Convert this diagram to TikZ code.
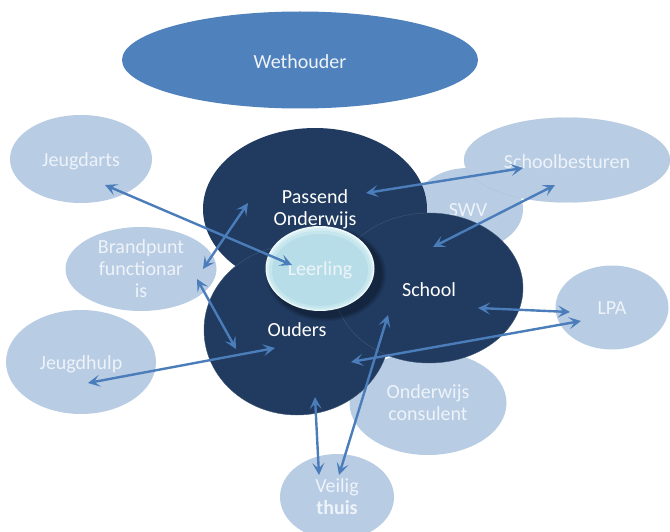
\documentclass[tikz,border=0pt]{standalone}
\usepackage{fontspec}
\setmainfont{Carlito}
\usetikzlibrary{arrows.meta,shapes.geometric}
\definecolor{lightblob}{HTML}{B8CCE4}
\definecolor{darkblob}{HTML}{203B5F}
\definecolor{midblob}{HTML}{4F81BD}
\definecolor{arrowblue}{HTML}{4A7DBA}
\definecolor{softtext}{HTML}{EEF3F9}
\definecolor{rimA}{HTML}{EEF8FA}
\definecolor{rimB}{HTML}{D6EEF3}
\definecolor{rimC}{HTML}{C5E6EC}
\definecolor{coreLeer}{HTML}{B7DEE8}
\newcommand{\dropby}[2]{\raisebox{-#1pt}[\height][\depth]{#2}}
\tikzset{
  blob/.style={ellipse,inner sep=0pt,align=center,font=\fontsize{20}{22}\selectfont},
  size/.style n args={2}{minimum width=#1pt,minimum height=#2pt},
  outer/.style={blob,fill=lightblob,text=softtext},
  core/.style={blob,fill=darkblob,text=white},
  link/.style={draw=arrowblue,line width=2.4pt,{Stealth[length=12pt,width=12pt,inset=5.5pt]}-{Stealth[length=12pt,width=12pt,inset=5.5pt]}},
}
\begin{document}
\begin{tikzpicture}[x=1pt,y=-1pt]
\useasboundingbox (0,0) rectangle (670,532);
\clip (0,0) rectangle (670,532);
\fill[white] (0,0) rectangle (670,532);
\node[outer,size={110}{82}] (swv) at (468,209) {\dropby{1.5}{SWV}};
\node[outer,size={157}{104}] (consulent) at (428,403) {Onderwijs\\consulent};
\node[outer,size={142}{88}] (jeugdarts) at (81,159) {\dropby{2.5}{Jeugdarts}};
\node[outer,size={151}{84}] (brandpunt) at (141,269) {Brandpunt\\functionar\\is};
\node[outer,size={150}{104}] (jeugdhulp) at (81,362) {\dropby{2}{Jeugdhulp}};
\node[outer,size={206}{85},draw=lightblob!85!black,draw opacity=.25,line width=.4pt] (besturen) at (567,160) {\dropby{2}{Schoolbesturen}};
\node[outer,size={113}{84}] (lpa) at (612,307.5) {\dropby{1}{LPA}};
\node[outer,size={114}{86}] (veilig) at (337,497) {Veilig\\\textbf{thuis}};
\node[blob,fill=midblob,text=softtext,size={356}{97}] (wethouder) at (300,60) {\dropby{1.5}{Wethouder}};
\node[core,size={224}{162}] (passend) at (315,209) {Passend\\Onderwijs};
\node[core,size={186}{170},draw=darkblob!85!white,line width=.4pt] (ouders) at (297,330) {Ouders};
\node[core,size={188}{150},draw=darkblob!85!white,line width=.4pt] (school) at (429,288) {\dropby{2}{School}};
% soft shadow and rim of the centre ellipse
\foreach \g/\o in {1.10/.05,1.08/.06,1.06/.07,1.04/.08,1.02/.10}{
  \fill[black,opacity=\o] (326,274) ellipse ({55*\g} and {43*\g});
}
\fill[rimA] (320,268.5) ellipse (54.5 and 42.5);
\fill[rimB] (320,269) ellipse (53 and 41);
\fill[rimC] (320,269.5) ellipse (51 and 39);
\node[blob,fill=coreLeer,text=softtext,size={96}{72}] (leerling) at (320,270) {Leerling};
% connector ends
\coordinate (a1) at (105,185); \coordinate (a2) at (292,265);
\coordinate (b1) at (248,203); \coordinate (b2) at (203,269);
\coordinate (c1) at (197,279); \coordinate (c2) at (236,349);
\coordinate (d1) at (88,383);  \coordinate (d2) at (275,348);
\coordinate (e1) at (366,193); \coordinate (e2) at (523,168);
\coordinate (f1) at (433,247); \coordinate (f2) at (555,185);
\coordinate (g1) at (478,308); \coordinate (g2) at (570,312);
\coordinate (h1) at (351,362); \coordinate (h2) at (581,321);
\coordinate (i1) at (315,397); \coordinate (i2) at (319,475);
\coordinate (j1) at (388,315); \coordinate (j2) at (339,475);
\draw[link] (a1) -- (a2);
\draw[link] (b1) -- (b2);
\draw[link] (c1) -- (c2);
\draw[link] (d1) -- (d2);
\draw[link] (e1) -- (e2);
\draw[link] (f1) -- (f2);
\draw[link] (g1) -- (g2);
\draw[link] (h1) -- (h2);
\draw[link] (i1) -- (i2);
\draw[link] (j1) -- (j2);
\end{tikzpicture}
\end{document}
